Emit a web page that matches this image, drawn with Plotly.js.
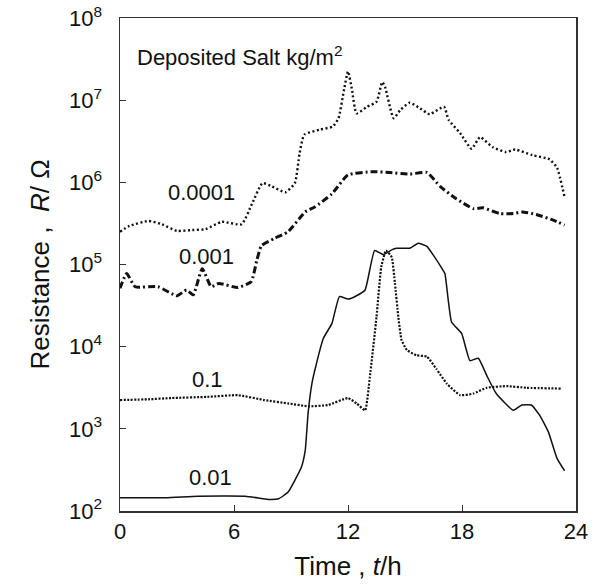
<!DOCTYPE html>
<html>
<head>
<meta charset="utf-8">
<script src="https://cdn.plot.ly/plotly-3.0.1.min.js"></script>
<style>html,body{margin:0;padding:0;background:#fff;}#chart{width:600px;height:588px;}</style>
</head>
<body>
<div id="chart"></div>
<script>
// Time (h) and resistance (ohm) for each deposited salt amount (kg/m2)
var t_0001 = [0,0.5,1.5,2.2,3.0,3.8,4.5,5.35,6.4,6.95,7.5,8.0,8.7,9.2,9.45,9.7,10.5,11.2,11.5,11.8,12.0,12.2,12.45,13.0,13.5,13.8,13.95,14.4,14.75,15.25,15.8,16.3,17.05,17.3,17.9,18.5,18.95,19.6,20.3,20.8,21.7,22.6,23.0,23.4];
var r_0001 = [2.51e5,2.95e5,3.39e5,3.09e5,2.57e5,2.63e5,2.69e5,3.31e5,3.09e5,5.5e5,9.77e5,8.91e5,7.59e5,9.77e5,2.24e6,3.8e6,4.37e6,4.79e6,6.03e6,1.38e7,2.24e7,1.38e7,6.92e6,8.32e6,9.55e6,1.66e7,1.45e7,6.03e6,7.59e6,9.33e6,7.94e6,6.76e6,8.32e6,5.75e6,3.98e6,2.57e6,3.55e6,2.69e6,2.34e6,2.51e6,2.14e6,1.91e6,1.51e6,6.61e5];

var t_001 = [0,0.35,0.8,2.0,3.0,3.5,3.85,4.33,4.8,5.2,6.2,6.9,7.2,7.45,8.15,8.85,9.75,10.25,11.15,12.0,13.3,14.2,15.25,16.15,16.85,17.7,18.6,19.1,20.0,20.7,21.15,21.9,22.8,23.4];
var r_001 = [5.13e4,7.76e4,5.37e4,5.37e4,4.17e4,4.9e4,4.27e4,8.91e4,5.37e4,5.89e4,5.25e4,6.17e4,1.12e5,1.7e5,2.09e5,2.51e5,4.37e5,5.01e5,7.24e5,1.23e6,1.35e6,1.32e6,1.26e6,1.32e6,8.91e5,6.31e5,4.79e5,4.9e5,4.17e5,4.17e5,4.37e5,4.07e5,3.47e5,3.02e5];

var t_1 = [0,1.5,2.7,4.6,6.2,7.6,8.85,9.9,10.95,12.0,12.45,12.9,13.15,13.5,13.75,14.0,14.3,14.47,14.65,14.82,15.1,15.6,16.15,16.65,17.2,17.9,18.6,19.3,20.35,21.4,23.25];
var r_1 = [2.24e3,2.29e3,2.37e3,2.45e3,2.57e3,2.24e3,2.04e3,1.88e3,1.95e3,2.37e3,2.04e3,1.68e3,4.27e3,2.29e4,9.33e4,1.48e5,1.23e5,5.89e4,2.29e4,1.2e4,9.12e3,7.85e3,7.59e3,5.37e3,3.55e3,2.57e3,2.69e3,3.16e3,3.31e3,3.16e3,3.09e3];

var t_01 = [0,2.4,4.1,6.6,7.9,8.35,8.85,9.55,9.75,9.9,10.1,10.25,10.7,11.15,11.55,12.0,12.45,12.9,13.4,13.85,14.3,14.55,15.25,15.7,16.15,16.5,16.95,17.1,17.45,17.98,18.42,18.86,19.3,19.8,20.7,21.15,21.65,22.1,22.55,23.0,23.4];
var r_01 = [145,145,151,151,138,141,170,343,550,1550,3550,5130,1.26e4,1.91e4,4.07e4,3.8e4,4.17e4,4.9e4,1.48e5,1.32e5,1.51e5,1.58e5,1.58e5,1.82e5,1.66e5,1.29e5,8.91e4,7.76e4,2.0e4,1.45e4,6.76e3,7.24e3,4.47e3,2.69e3,1.68e3,1.95e3,1.95e3,1.45e3,912,437,309];

var xTicks = [0,6,12,18,24];
var yTicks = [1e2,1e3,1e4,1e5,1e6,1e7,1e8];
var yTickText = ['10<sup>2</sup>','10<sup>3</sup>','10<sup>4</sup>','10<sup>5</sup>','10<sup>6</sup>','10<sup>7</sup>','10<sup>8</sup>'];
var seriesLabels = ['0.0001','0.001','0.1','0.01'];
var labelPos = [[4.3,5.88],[4.53,5.10],[4.62,3.60],[4.75,2.41]];

var FONT = 'Liberation Sans, Arial, Helvetica, sans-serif';
var BLACK = '#111';

var traces = [
  {x:t_0001, y:r_0001, mode:'lines', line:{color:BLACK, width:2.4, dash:'2px,2.5px', shape:'spline', smoothing:0.5}, name:seriesLabels[0]},
  {x:t_001, y:r_001, mode:'lines', line:{color:BLACK, width:3, dash:'7px,3px,2px,3px', shape:'spline', smoothing:0.5}, name:seriesLabels[1]},
  {x:t_1, y:r_1, mode:'lines', line:{color:BLACK, width:2.2, dash:'2px,1.5px', shape:'spline', smoothing:0.4}, name:seriesLabels[2]},
  {x:t_01, y:r_01, mode:'lines', line:{color:BLACK, width:1.5, shape:'spline', smoothing:0.4}, name:seriesLabels[3]}
];

var annotations = seriesLabels.map(function(s,i){
  return {x:labelPos[i][0], y:labelPos[i][1], xref:'x', yref:'y', text:s, showarrow:false,
          font:{family:FONT, size:22, color:BLACK}, xanchor:'center', yanchor:'middle'};
});
annotations.push({x:0.79, y:7.54, xref:'x', yref:'y', text:'Deposited Salt kg/m<sup>2</sup>', showarrow:false,
  font:{family:FONT, size:22, color:BLACK}, xanchor:'left', yanchor:'middle'});

var layout = {
  width:600, height:588,
  margin:{l:120, r:24, t:18, b:77},
  paper_bgcolor:'#fff', plot_bgcolor:'#fff',
  showlegend:false,
  font:{family:FONT, color:BLACK},
  xaxis:{
    range:[0,24], tickvals:xTicks, ticktext:xTicks.map(String),
    ticks:'inside', ticklen:6, tickcolor:'#333', tickwidth:1,
    showline:true, mirror:true, linecolor:'#333', linewidth:1.5,
    showgrid:false, zeroline:false,
    tickfont:{family:FONT, size:22, color:BLACK},
    title:{text:'Time , <i>t</i>/h', font:{family:FONT, size:26, color:BLACK}, standoff:14}
  },
  yaxis:{
    type:'log', range:[2,8.0005], tickvals:yTicks, ticktext:yTickText,
    ticks:'inside', ticklen:6, tickcolor:'#333', tickwidth:1,
    showline:true, mirror:true, linecolor:'#333', linewidth:1.5,
    showgrid:false, zeroline:false,
    tickfont:{family:FONT, size:22, color:BLACK},
    ticklabelstandoff:12,
    title:{text:'Resistance ,  <i>R</i>/ Ω\u00a0\u00a0', font:{family:FONT, size:26, color:BLACK}, standoff:12}
  },
  annotations:annotations
};

Plotly.newPlot('chart', traces, layout, {staticPlot:true, displayModeBar:false});
</script>
</body>
</html>
